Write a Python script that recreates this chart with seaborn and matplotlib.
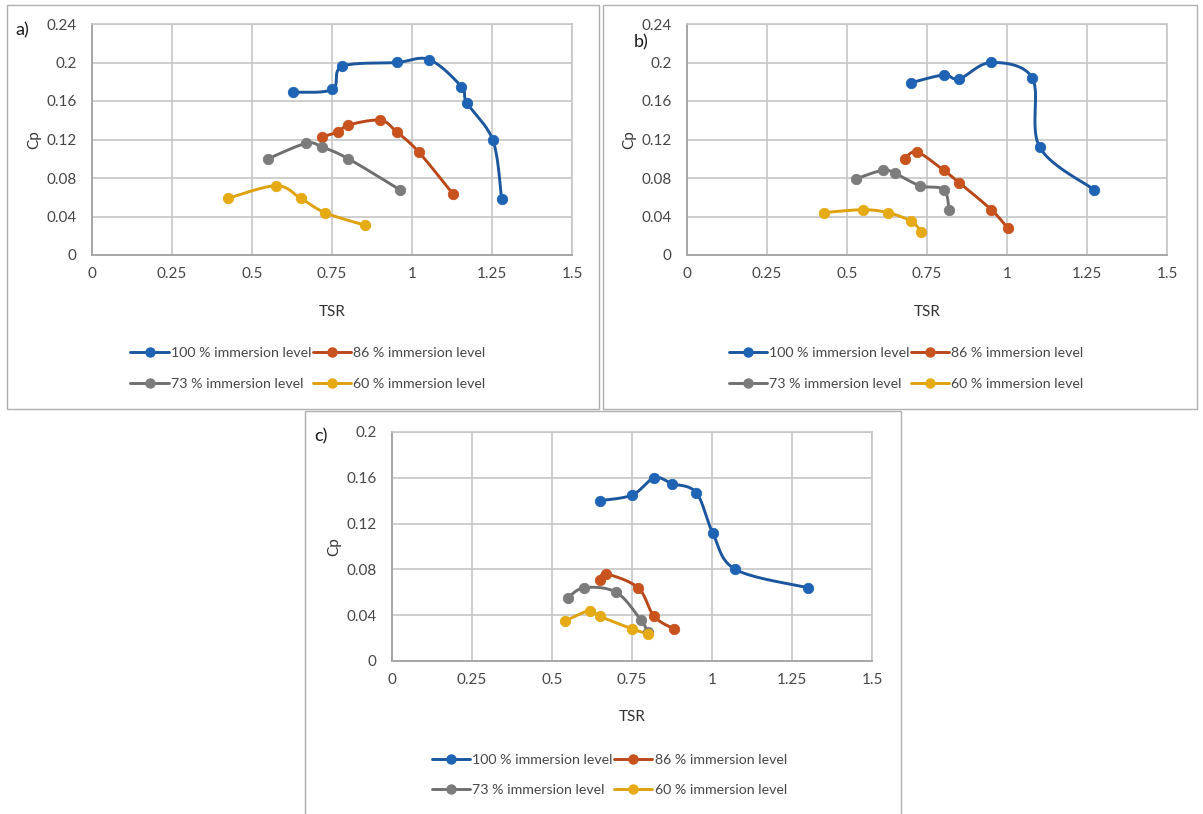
import numpy as np
import matplotlib
matplotlib.use("Agg")
import matplotlib.pyplot as plt
from matplotlib.lines import Line2D
from matplotlib.patches import Rectangle
from matplotlib.ticker import FuncFormatter, MultipleLocator
import seaborn as sns

sns.set_theme(style="white")
plt.rcParams["font.family"] = ["Lato", "DejaVu Sans"]

# ---- data: TSR (x) and power coefficient Cp (y) per immersion level ----
labels = ["100 % immersion level", "86 % immersion level",
          "73 % immersion level", "60 % immersion level"]

# panel a)
a_tsr_100 = [0.628, 0.751, 0.782, 0.952, 1.054, 1.154, 1.172, 1.253, 1.280]
a_cp_100 = [0.169, 0.172, 0.196, 0.200, 0.203, 0.175, 0.158, 0.119, 0.058]
a_tsr_86 = [0.720, 0.770, 0.801, 0.901, 0.952, 1.021, 1.129]
a_cp_86 = [0.123, 0.128, 0.135, 0.140, 0.128, 0.107, 0.063]
a_tsr_73 = [0.550, 0.669, 0.720, 0.801, 0.961]
a_cp_73 = [0.100, 0.116, 0.112, 0.100, 0.068]
a_tsr_60 = [0.426, 0.576, 0.652, 0.728, 0.852]
a_cp_60 = [0.059, 0.072, 0.059, 0.044, 0.031]

# panel b)
b_tsr_100 = [0.701, 0.802, 0.851, 0.950, 1.079, 1.102, 1.271]
b_cp_100 = [0.179, 0.187, 0.183, 0.200, 0.184, 0.112, 0.068]
b_tsr_86 = [0.680, 0.719, 0.802, 0.851, 0.951, 1.002]
b_cp_86 = [0.100, 0.107, 0.088, 0.075, 0.047, 0.028]
b_tsr_73 = [0.527, 0.611, 0.649, 0.728, 0.802, 0.819]
b_cp_73 = [0.079, 0.088, 0.085, 0.072, 0.068, 0.047]
b_tsr_60 = [0.427, 0.550, 0.628, 0.701, 0.732]
b_cp_60 = [0.044, 0.047, 0.044, 0.035, 0.024]

# panel c)
c_tsr_100 = [0.649, 0.751, 0.819, 0.875, 0.951, 1.002, 1.073, 1.300]
c_cp_100 = [0.140, 0.145, 0.160, 0.155, 0.147, 0.112, 0.080, 0.064]
c_tsr_86 = [0.650, 0.669, 0.769, 0.819, 0.881]
c_cp_86 = [0.071, 0.076, 0.064, 0.039, 0.028]
c_tsr_73 = [0.549, 0.601, 0.701, 0.777, 0.800]
c_cp_73 = [0.055, 0.064, 0.060, 0.036, 0.025]
c_tsr_60 = [0.541, 0.618, 0.650, 0.751, 0.801]
c_cp_60 = [0.035, 0.044, 0.039, 0.028, 0.0235]

line_colors = ["#1B569E", "#B9471A", "#6F6F6F", "#DDA20E"]
marker_colors = ["#1F64B4", "#C8531E", "#7C7C7C", "#E6AA14"]
text_color = "#474747"
grid_color = "#C6C6C6"
axis_color = "#A6A6A6"

W, H = 1203, 814
fig = plt.figure(figsize=(W / 100, H / 100), dpi=100)


def px_box(x0, y0, x1, y1):
    """Pixel box (top-left origin) -> figure fraction [l, b, w, h]."""
    return [x0 / W, 1 - y1 / H, (x1 - x0) / W, (y1 - y0) / H]


def smooth_path(x, y, xr, yr, n=20):
    """Smoothed curve through the points (cubic Bezier, Catmull-Rom style),
    computed in axis-normalised space so the curvature looks even."""
    p = np.column_stack([np.asarray(x) / xr, np.asarray(y) / yr])
    out = [p[0]]
    for i in range(len(p) - 1):
        p0 = p[i - 1] if i > 0 else p[i]
        p1, p2 = p[i], p[i + 1]
        p3 = p[i + 2] if i + 2 < len(p) else p[i + 1]
        c1 = p1 + (p2 - p0) / 6.0
        c2 = p2 - (p3 - p1) / 6.0
        t = np.linspace(0, 1, n)[1:, None]
        seg = ((1 - t) ** 3) * p1 + 3 * ((1 - t) ** 2) * t * c1 \
            + 3 * (1 - t) * t ** 2 * c2 + t ** 3 * p2
        out.extend(seg)
    out = np.array(out)
    return out[:, 0] * xr, out[:, 1] * yr


def fmt(v, _pos):
    return "%g" % round(v, 4)


def draw_panel(box, series, ymax, label, label_xy, legend_xy):
    ax = fig.add_axes(px_box(*box))
    ax.set_facecolor("none")
    for (x, y), lc, mc in zip(series, line_colors, marker_colors):
        sx, sy = smooth_path(x, y, 1.5, ymax)
        sns.lineplot(x=sx, y=sy, sort=False, estimator=None, ax=ax,
                     color=lc, linewidth=2.1, zorder=3)
        sns.scatterplot(x=x, y=y, ax=ax, color=mc, s=56,
                        edgecolor=mc, linewidth=0.6, zorder=4)
    ax.set_xlim(0, 1.5)
    ax.set_ylim(0, ymax)
    ax.xaxis.set_major_locator(MultipleLocator(0.25))
    ax.yaxis.set_major_locator(MultipleLocator(0.04))
    ax.xaxis.set_major_formatter(FuncFormatter(fmt))
    ax.yaxis.set_major_formatter(FuncFormatter(fmt))
    ax.grid(True, color=grid_color, linewidth=1.2)
    ax.set_axisbelow(True)
    for side in ["top", "right"]:
        ax.spines[side].set_color(grid_color)
        ax.spines[side].set_linewidth(1.2)
    for side in ["left", "bottom"]:
        ax.spines[side].set_color(axis_color)
        ax.spines[side].set_linewidth(1.4)
    ax.tick_params(axis="both", length=0, labelsize=11,
                   labelcolor=text_color)
    ax.tick_params(axis="x", pad=9)
    ax.tick_params(axis="y", pad=11)
    ax.set_xlabel("TSR", fontsize=11, color="#333333")
    ax.set_ylabel("Cp", fontsize=11, color="#333333")
    ax.xaxis.set_label_coords(0.5, -0.215)
    ax.yaxis.set_label_coords(-0.105, 0.5)
    fig.text(label_xy[0] / W, 1 - label_xy[1] / H, label, fontsize=13,
             color="#1a1a1a", va="center", ha="left")
    handles = [Line2D([], [], color=lc, marker="o", markersize=6.5,
                      markerfacecolor=mc, markeredgecolor=mc, linewidth=2.1)
               for lc, mc in zip(line_colors, marker_colors)]
    # two-column legend filled row by row
    order = [0, 2, 1, 3]
    ax.legend([handles[i] for i in order], [labels[i] for i in order],
              loc="upper left", bbox_to_anchor=legend_xy, ncol=2,
              frameon=False, fontsize=10.2, handlelength=2.7,
              handletextpad=0.15, columnspacing=0.1, labelspacing=1.3,
              borderpad=0, borderaxespad=0, labelcolor=text_color)
    return ax


# panel frames
for bx in [(7, 5, 599, 409), (603, 5, 1197, 409), (305, 411, 901, 830)]:
    fig.patches.append(Rectangle((bx[0] / W, 1 - bx[3] / H),
                                 (bx[2] - bx[0]) / W, (bx[3] - bx[1]) / H,
                                 transform=fig.transFigure, fill=False,
                                 edgecolor="#B0B0B0", linewidth=1.0))

draw_panel((92, 24, 572, 255),
           [(a_tsr_100, a_cp_100), (a_tsr_86, a_cp_86),
            (a_tsr_73, a_cp_73), (a_tsr_60, a_cp_60)],
           0.24, "a)", (15, 30), (0.08, -0.40))
draw_panel((687, 24, 1167, 255),
           [(b_tsr_100, b_cp_100), (b_tsr_86, b_cp_86),
            (b_tsr_73, b_cp_73), (b_tsr_60, b_cp_60)],
           0.24, "b)", (634, 42), (0.087, -0.40))
draw_panel((392, 432, 872, 661),
           [(c_tsr_100, c_cp_100), (c_tsr_86, c_cp_86),
            (c_tsr_73, c_cp_73), (c_tsr_60, c_cp_60)],
           0.2, "c)", (314, 436), (0.083, -0.405))

fig.savefig("out.png", dpi=100, facecolor="white")
